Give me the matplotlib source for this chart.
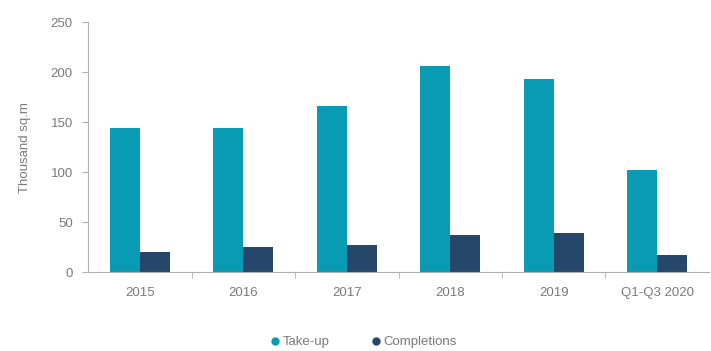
import matplotlib
matplotlib.use("Agg")
import matplotlib.pyplot as plt
import numpy as np
from matplotlib.lines import Line2D

categories = ["2015", "2016", "2017", "2018", "2019", "Q1-Q3 2020"]
take_up = [144, 144, 166, 206, 193, 102]
completions = [20, 25, 27, 37, 39, 17]

plt.rcParams['font.family'] = ['Liberation Sans', 'DejaVu Sans']
teal = "#0A9BB4"
navy = "#26466A"

fig = plt.figure(figsize=(7.11, 3.51), dpi=100)
ax = fig.add_axes([0.124, 0.225, 0.873, 0.712])
x = np.arange(len(categories))
w = 0.29
ax.bar(x - w/2, take_up, w, color=teal, label="Take-up")
ax.bar(x + w/2, completions, w, color=navy, label="Completions")

ax.set_xlim(-0.5, len(categories) - 0.5)
ax.set_ylim(0, 250)
ax.set_yticks(np.arange(0, 251, 50))
ax.set_xticks(x)
ax.set_xticklabels(categories)
ax.set_xticks(np.arange(0.5, len(categories) - 0.5, 1), minor=True)
ax.tick_params(axis='x', which='major', length=0, pad=11, labelsize=9.5, labelcolor="#7a7a7a")
ax.tick_params(axis='x', which='minor', length=4, color="#b0b0b0", direction='out')
ax.tick_params(axis='y', length=4, color="#b0b0b0", labelsize=9.5, labelcolor="#7a7a7a", pad=7)
for s in ['top', 'right']:
    ax.spines[s].set_visible(False)
ax.spines['left'].set_color("#b0b0b0")
ax.spines['bottom'].set_color("#b0b0b0")
ax.set_ylabel("Thousand sq.m", color="#7a7a7a", fontsize=9.5, labelpad=14)

handles = [Line2D([], [], marker='o', linestyle='none', color=teal, markersize=5),
           Line2D([], [], marker='o', linestyle='none', color=navy, markersize=5)]
fig.legend(handles, ["Take-up", "Completions"], loc='center', bbox_to_anchor=(0.51, 0.025),
           ncol=2, frameon=False, fontsize=9.5, labelcolor="#7a7a7a",
           handletextpad=0.1, columnspacing=3, handlelength=1)

fig.savefig("out.png", dpi=100)
